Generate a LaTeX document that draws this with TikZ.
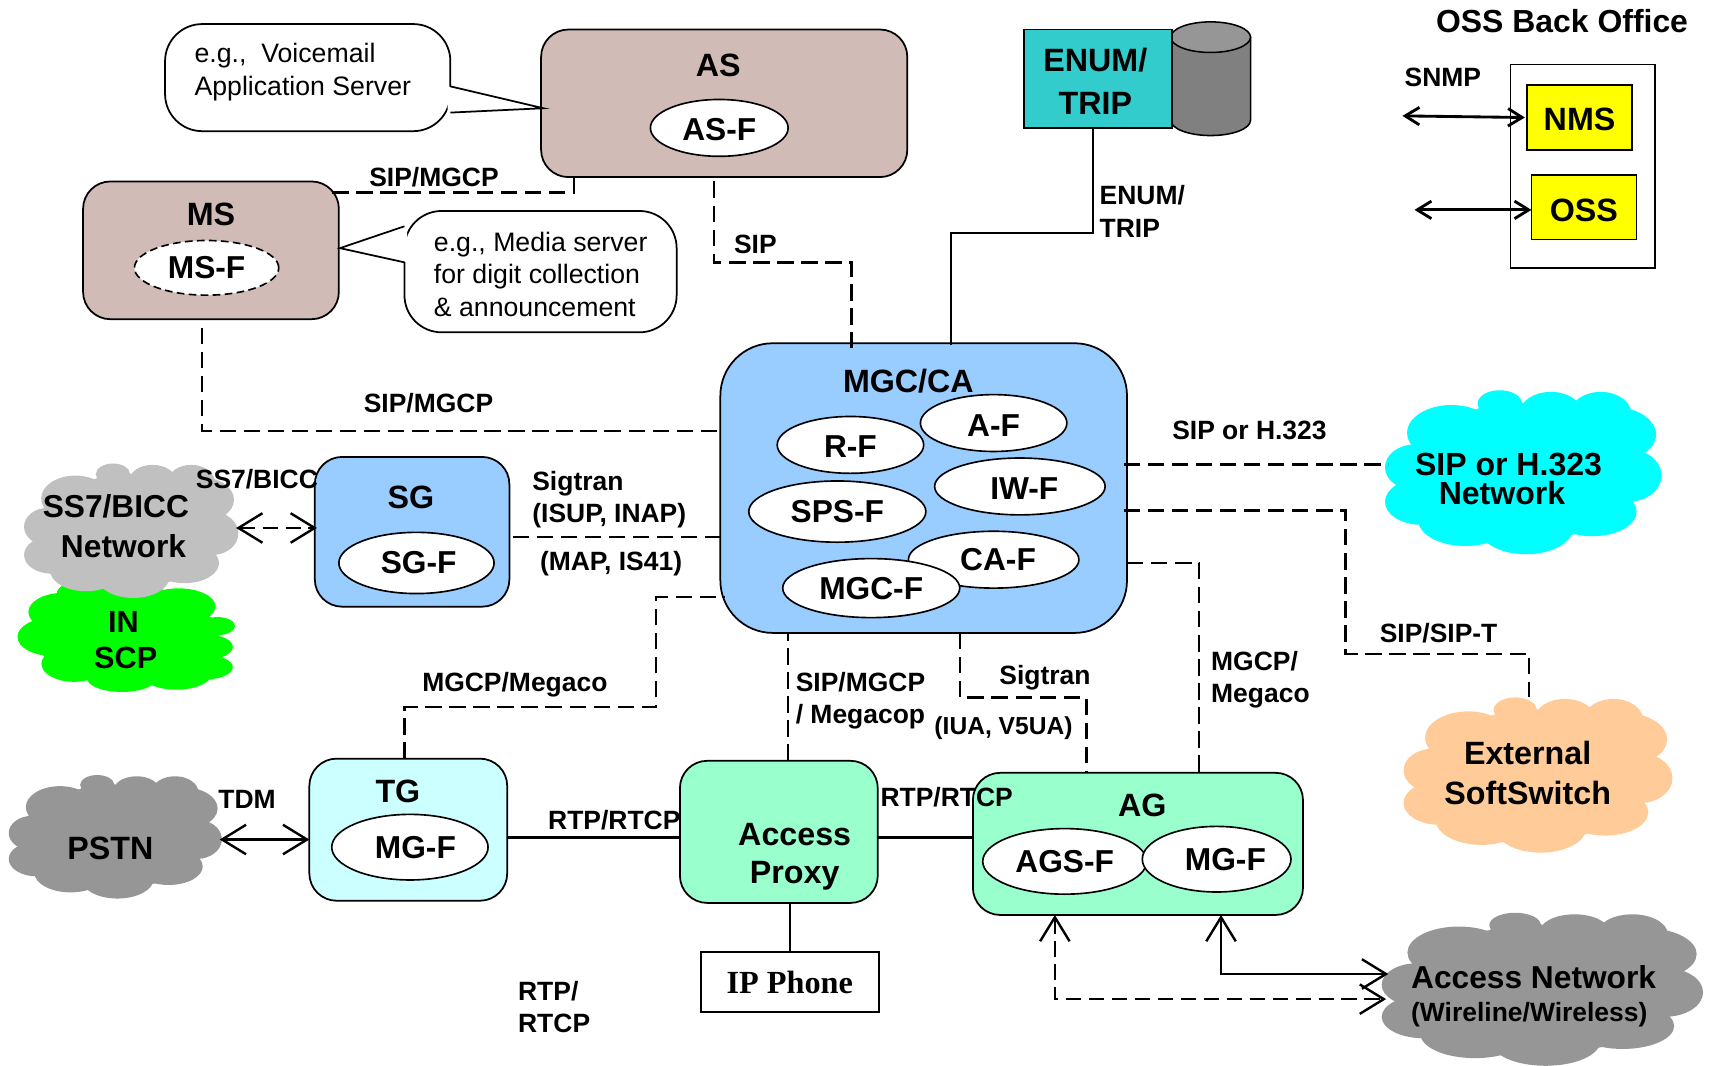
\documentclass[tikz,border=0pt]{standalone}
\usepackage{fontspec}
\setmainfont{Liberation Sans}
\newfontfamily\timesfam{Liberation Serif}
\usetikzlibrary{shapes.geometric,arrows.meta}
\definecolor{brownbox}{HTML}{D1BBB6}
\definecolor{bluebox}{HTML}{99CCFF}
\definecolor{tgbox}{HTML}{CCFFFF}
\definecolor{greenbox}{HTML}{99FFCC}
\definecolor{tealbox}{HTML}{33CCCC}
\definecolor{cloudgray}{HTML}{969696}
\definecolor{lightcloud}{HTML}{C0C0C0}
\definecolor{peach}{HTML}{FFCC99}
\definecolor{purecyan}{HTML}{00FFFF}
\definecolor{puregreen}{HTML}{00FF00}
\definecolor{pureyellow}{HTML}{FFFF00}
\newcommand{\lowered}[2]{\raisebox{-#1}[\height][0pt]{#2}}
\newcommand{\bumps}{0.415/0.08/0.08/0.08, 0.60/0.13/0.11/0.12, 0.78/0.14/0.11/0.13, 0.82/0.27/0.16/0.17, 0.88/0.52/0.12/0.16, 0.75/0.74/0.16/0.15, 0.51/0.84/0.17/0.16, 0.29/0.79/0.17/0.16, 0.13/0.68/0.13/0.14, 0.11/0.47/0.11/0.14, 0.24/0.26/0.16/0.17, 0.43/0.15/0.10/0.10, 0.5/0.5/0.42/0.42}
% x0, y0, width, height, colour
\newcommand{\cloudup}[5]{\foreach \a/\b/\c/\d in \bumps {\fill[#5] ({#1+\a*#3},{#2+\b*#4}) ellipse [x radius={\c*#3},y radius={\d*#4}];}}
\newcommand{\cloudrot}[5]{\foreach \a/\b/\c/\d in \bumps {\fill[#5] ({#1+(1-\b)*#3},{#2+\a*#4}) ellipse [x radius={\d*#3},y radius={\c*#4}];}}
\tikzset{
  every node/.style={inner sep=0pt,outer sep=0pt},
  rbox/.style={draw,line width=1.6pt,rounded corners=25pt,minimum width=#1},
  func/.style={draw,line width=1.5pt,fill=white,ellipse,font=\bfseries\fontsize{29}{30}\selectfont},
  title/.style={font=\bfseries\fontsize{29.5}{30}\selectfont},
  lbl/.style={font=\bfseries\fontsize{24.2}{29.5}\selectfont},
  lblml/.style={lbl,align=left},
  note/.style={draw,line width=1.6pt,fill=white,rounded corners=34pt},
  notetext/.style={align=left,font=\fontsize{24.4}{29.5}\selectfont},
  dsh/.style={line width=2.1pt,dash pattern=on 15pt off 7pt},
  sol/.style={line width=1.8pt},
  thick2/.style={line width=2.6pt},
  barbs/.style={line width=2.2pt,{Straight Barb[length=22pt,width=27pt]}-{Straight Barb[length=22pt,width=27pt]}},
  barbsm/.style={line width=2.6pt,{Straight Barb[length=13pt,width=16pt]}-{Straight Barb[length=13pt,width=16pt]}},
}
\begin{document}
\begin{tikzpicture}[x=1pt,y=-1pt]
\useasboundingbox (0,0) rectangle (1568,975);
% clouds
\cloudrot{16}{530}{199}{103}{puregreen}
\cloudup{22}{424}{196}{123}{lightcloud}
\cloudup{8}{709}{195}{113}{cloudgray}
\cloudup{1267}{357}{253}{150}{purecyan}
\cloudup{1284}{638}{246}{142}{peach}
\cloudup{1264}{835}{294}{140}{cloudgray}
% boxes
\node[note,minimum width=261pt,minimum height=98pt] (c1) at (281.5,71) {};
\node[note,minimum width=249pt,minimum height=111pt] (c2) at (494.5,248.5) {};
\node[rbox=335pt,fill=brownbox,minimum height=135pt] (as) at (662.5,94.5) {};
\node[rbox=234pt,fill=brownbox,minimum height=126pt] (ms) at (193,229) {};
\node[rbox=372pt,fill=bluebox,minimum height=265pt,rounded corners=48pt] (mgc) at (845,446.5) {};
\node[rbox=178pt,fill=bluebox,minimum height=137pt] (sg) at (377,486.5) {};
\node[rbox=181pt,fill=tgbox,minimum height=130pt] (tg) at (373.5,759) {};
\node[rbox=181pt,fill=greenbox,minimum height=130pt] (ap) at (712.5,761) {};
\node[rbox=302pt,fill=greenbox,minimum height=130pt] (ag) at (1041,772) {};
\node[draw,line width=1.6pt,fill=white,minimum width=163pt,minimum height=55pt,font=\timesfam\bfseries\fontsize{29.5}{30}\selectfont] (ip) at (722.5,898.5) {IP Phone};
% ENUM and database
\filldraw[fill=gray,line width=1.4pt] (1071,34) -- (1071,110) arc[start angle=180,end angle=0,x radius=36.5,y radius=14] -- (1144,34) -- cycle;
\filldraw[fill=cloudgray,line width=1.4pt] (1107.5,34) ellipse [x radius=36.5,y radius=14];
\node[draw,line width=1.6pt,fill=tealbox,minimum width=135pt,minimum height=90pt] (enum) at (1004.5,72) {};
% OSS
\node[draw,line width=1.4pt,fill=white,minimum width=132pt,minimum height=186pt] (back) at (1448,152) {};
\node[draw,line width=1.6pt,fill=pureyellow,minimum width=96pt,minimum height=59pt,title] (nms) at (1445,107.5) {\lowered{2pt}{NMS}};
\node[draw,line width=1.6pt,fill=pureyellow,minimum width=96pt,minimum height=59pt,title] (oss) at (1449,189.5) {\lowered{2.5pt}{OSS}};
\coordinate (snmpl) at (1283,106);
\coordinate (ossl) at (1294,192);
\draw[barbsm] (snmpl) -- ([yshift=0pt,xshift=-2pt]nms.west);
\draw[barbsm] (ossl) -- ([yshift=-2.5pt]oss.west);
% function ellipses
\node[func,dash pattern=on 7pt off 4pt,minimum width=132pt,minimum height=50pt] (msf) at (189,245) {MS-F};
\node[func,minimum width=126pt,minimum height=52pt] (asf) at (658,117) {\lowered{1.5pt}{AS-F}};
\node[func,minimum width=134pt,minimum height=52pt] (af) at (909,387) {\lowered{2pt}{A-F}};
\node[func,minimum width=134pt,minimum height=52pt] (rf) at (778,407) {\lowered{2pt}{R-F}};
\node[func,minimum width=162pt,minimum height=56pt] (spsf) at (766,468) {SPS-F};
\node[func,minimum width=156pt,minimum height=52pt] (iwf) at (933,445) {\hspace*{8pt}\lowered{2pt}{IW-F}};
\node[func,minimum width=156pt,minimum height=52pt] (caf) at (909,512) {\hspace*{8pt}CA-F};
\node[func,minimum width=162pt,minimum height=54pt] (mgcf) at (797,538) {MGC-F};
\node[func,minimum width=142pt,minimum height=56pt] (sgf) at (381,515) {\hspace*{4pt}SG-F};
\node[func,minimum width=143pt,minimum height=60pt] (tgf) at (375,775) {\hspace*{10pt}MG-F};
\node[func,minimum width=150pt,minimum height=60pt] (agsf) at (974,788) {AGS-F};
\node[func,minimum width=136pt,minimum height=60pt] (agmf) at (1113,786) {\hspace*{16pt}MG-F};
% callout tails
\fill[white] ([xshift=-2.5pt,yshift=-8pt]c1.east) -- ([xshift=2pt,yshift=-4.5pt]as.west) -- ([xshift=-2.5pt,yshift=-32pt]c1.east) -- cycle;
\draw[line width=1.6pt] ([yshift=-8pt]c1.east) -- ([xshift=2pt,yshift=-4.5pt]as.west) -- ([yshift=-32pt]c1.east);
\fill[white] ([xshift=2.5pt,yshift=41.5pt]c2.west) -- ([xshift=1pt,yshift=2pt]ms.east) -- ([xshift=2.5pt,yshift=8.5pt]c2.west) -- cycle;
\draw[line width=1.6pt] ([yshift=41.5pt]c2.west) -- ([xshift=1pt,yshift=2pt]ms.east) -- ([yshift=8.5pt]c2.west);
% connectors
\draw[dsh] ([xshift=-137.5pt]as.south) |- ([shift={(-9pt,-10pt)}]ms.north east);
\draw[dsh] ([xshift=-9.5pt,yshift=-4pt]as.south) -- ++(0,74) -| ([xshift=-66pt,yshift=-4pt]mgc.north);
\draw[sol] ([xshift=-4.5pt]enum.south) -- ++(0,96.5) -| ([xshift=25pt,yshift=-2pt]mgc.north);
\draw[dsh] ([xshift=-8pt,yshift=-8pt]ms.south) |- ([yshift=52.5pt]mgc.west);
\draw[dsh] ([xshift=3pt,yshift=-4.5pt]sg.east) -- ([yshift=-44.5pt]mgc.west);
\draw[dsh] ([xshift=-3.5pt]tg.north) -- ++(0,-47) -- ++(230,0) -- ++(0,-101) -- ([xshift=4pt,yshift=-99.5pt]mgc.west);
\draw[dsh] ([xshift=8.5pt]ap.north) -- ([xshift=-124pt]mgc.south);
\draw[dsh] ([xshift=33pt]mgc.south) -- ++(0,59) -| ([xshift=-47pt]ag.north);
\draw[dsh] ([yshift=-68.5pt]mgc.east) -| ([xshift=56pt]ag.north);
\coordinate (sipend) at (1270,425);
\draw[dsh] ([xshift=-3pt,yshift=21.5pt]mgc.east) -- (sipend);
\coordinate (softend) at (1399,638);
\draw[dsh] ([xshift=-3pt,yshift=-20.5pt]mgc.east) -- ++(203,0) -- ++(0,131) -| (softend);
\draw[thick2] ([yshift=-7pt]tg.east) -- ([yshift=-5pt]ap.west);
\draw[thick2] ([yshift=-5pt]ap.east) -- ([yshift=6pt]ag.west);
\draw[sol] ([xshift=10.5pt]ap.south) -- ([xshift=0.5pt]ip.north);
\coordinate (pstnr) at (201,768);
\draw[barbs] (pstnr) -- ([yshift=-9pt]tg.west);
\coordinate (ss7r) at (216,483);
\draw[barbs,dash pattern=on 14pt off 7pt] (ss7r) -- ([xshift=2pt,yshift=3.5pt]sg.west);
\coordinate (an1) at (1270,891);
\coordinate (an2) at (1268,914);
\draw[barbs] ([xshift=76pt]ag.south) |- (an1);
\draw[barbs,dash pattern=on 14pt off 7pt] ([xshift=-76pt]ag.south) |- (an2);
% titles
\node[title] (astitle) at (657,59.5) {AS};
\node[title] (mstitle) at (193,196) {MS};
\node[title] (mgctitle) at (831,349) {MGC/CA};
\node[title] (sgtitle) at (376,455) {SG};
\node[title] (tgtitle) at (364,724) {TG};
\node[title] (agtitle) at (1045,736.5) {AG};
\node[title,align=center,font=\bfseries\fontsize{29.5}{35}\selectfont] (aptitle) at (727,784) {Access\\Proxy};
\node[title,align=center,font=\bfseries\fontsize{29.5}{39}\selectfont] (enumtitle) at (1002,74.5) {ENUM/\\TRIP};
\node[title,font=\bfseries\fontsize{29.2}{30}\selectfont] (ossback) at (1429,19) {OSS Back Office};
% cloud texts
\node[title,align=center,font=\bfseries\fontsize{29}{36}\selectfont] (ss7t) at (106,481.5) {SS7/BICC\\\hspace*{14pt}Network};
\node[title,align=center,font=\bfseries\fontsize{28}{33}\selectfont] (scpt) at (115,586) {\hspace*{-4pt}IN\\SCP};
\node[title] (pstnt) at (101,776) {PSTN};
\node[title,align=center,font=\bfseries\fontsize{29.3}{26}\selectfont] (sipt) at (1380,438) {SIP or H.323\\\hspace*{-12pt}Network};
\node[title,align=center,font=\bfseries\fontsize{29.5}{36}\selectfont] (softt) at (1397.5,707) {External\\SoftSwitch};
\node[title,font=\bfseries\fontsize{29}{30}\selectfont] (ant) at (1403,894) {Access Network};
\node[lbl] (ant2) at (1399,928) {(Wireline/Wireless)};
% notes
\node[notetext,anchor=west] (c1t) at (178,66) {e.g.,\ \ Voicemail\\Application Server};
\node[notetext,anchor=west] (c2t) at (397,251) {e.g., Media server\\for digit collection\\\& announcement};
% connector labels
\node[lbl] (l1) at (397,162) {SIP/MGCP};
\node[lbl] (l2) at (691,224) {SIP};
\node[lblml,anchor=west] (l3) at (1006,193.5) {ENUM/\\TRIP};
\node[lbl] (l4) at (392,369) {SIP/MGCP};
\node[lbl] (l5) at (235,438) {SS7/BICC};
\node[lblml,anchor=west] (l6) at (487,457) {Sigtran\\(ISUP, INAP)};
\node[lbl] (l7) at (559,516) {(MAP, IS41)};
\node[lbl] (l8) at (471,626) {MGCP/Megaco};
\node[lbl] (l9) at (226,731) {TDM};
\node[lbl] (l10) at (562,750) {RTP/RTCP};
\node[lbl] (l11) at (866,729) {RTP/RTCP};
\node[lblml,anchor=west] (l12) at (728,641) {SIP/MGCP\\/ Megacop};
\node[lbl] (l13) at (956,620) {Sigtran};
\node[lbl,font=\bfseries\fontsize{22.5}{24}\selectfont] (l14) at (918,666) {(IUA, V5UA)};
\node[lblml,anchor=west] (l15) at (1108,622) {MGCP/\\Megaco};
\node[lbl] (l16) at (1143,394) {SIP or H.323};
\node[lbl] (l17) at (1316,579) {SIP/SIP-T};
\node[lblml,anchor=west] (l18) at (474,921) {RTP/\\RTCP};
\node[lbl] (l19) at (1320,71) {SNMP};
\end{tikzpicture}
\end{document}
